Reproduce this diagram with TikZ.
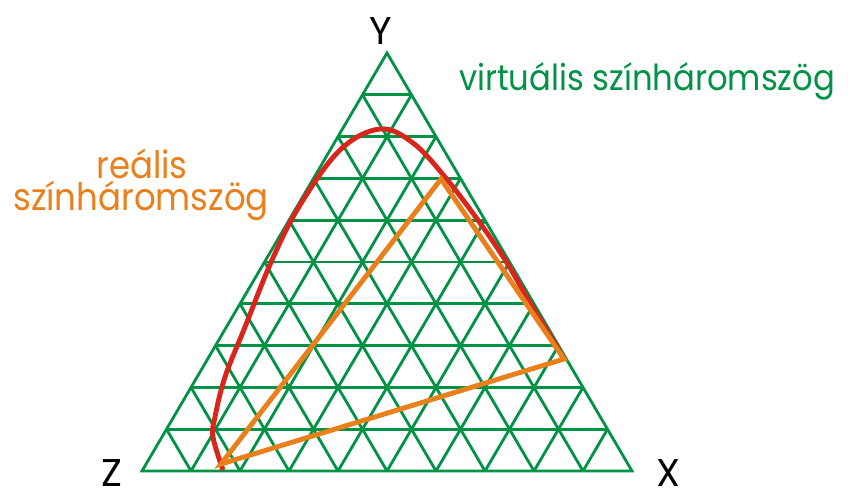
\documentclass[tikz,border=0pt]{standalone}
\usepackage{fontspec}
\setmainfont{Poppins}
\newfontfamily\captionfont{Poppins}[FakeStretch=0.9]
\usepackage{tikz}
\usetikzlibrary{calc}
\definecolor{gridgreen}{RGB}{0,146,69}
\definecolor{locusred}{RGB}{218,37,29}
\definecolor{gamutorange}{RGB}{234,128,28}

\begin{document}
\begin{tikzpicture}[x=0.02cm, y=-0.02cm,
  axislabel/.style={font=\fontsize{22}{26}\selectfont, text=black, inner sep=0pt},
  caption/.style={inner sep=0pt, anchor=base}]
\useasboundingbox (0,0) rectangle (854,491);

\coordinate (Z) at (142,471);
\coordinate (X) at (632,471);
\coordinate (Y) at (387,53);

\begin{scope}[gridgreen, line width=1.6pt]
\foreach \k in {1,...,9} {
  \draw ($(Y)!\k/10!(Z)$) -- ($(Y)!\k/10!(X)$);
  \draw ($(Z)!\k/10!(X)$) -- ($(Y)!\k/10!(X)$);
  \draw ($(X)!\k/10!(Z)$) -- ($(Y)!\k/10!(Z)$);
}
\draw[line join=miter] (Z) -- (X) -- (Y) -- cycle;
\end{scope}

\draw[locusred, line width=2.8pt] plot[smooth, tension=0.6] coordinates {
  (223,470) (213,437) (215,417) (225,377) (245,327) (272,260) (300,205)
  (340,150) (380,129) (413,143) (445,177) (480,223) (507,263) (530,303)
  (557,347) (563,358)};

\coordinate (R) at (221,464);
\coordinate (G) at (441,179);
\coordinate (B) at (564,359);
\draw[gamutorange, line width=2.8pt, line join=miter] (R) -- (G) -- (B) -- cycle;

\node (ly) at (381,31) [axislabel]{Y};
\node (lz) at (112,473) [axislabel]{Z};
\node (lx) at (668,473) [axislabel]{X};

\node (virt) at (647,90) [caption, text=gridgreen,
  font=\captionfont\fontsize{20.4}{24}\selectfont]{virtuális színháromszög};
\node (real1) at (142,178) [caption, text=gamutorange,
  font=\captionfont\fontsize{21.5}{24}\selectfont]{reális};
\node (real2) at (141,210) [caption, text=gamutorange,
  font=\captionfont\fontsize{21.5}{24}\selectfont]{színháromszög};

\end{tikzpicture}
\end{document}
